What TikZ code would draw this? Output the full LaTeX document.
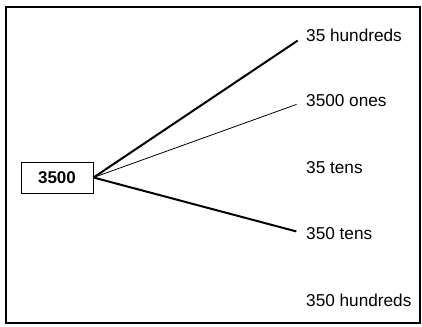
\documentclass[tikz,border=0pt]{standalone}
\usepackage{fontspec}
\setmainfont{Liberation Sans}
\usetikzlibrary{positioning}

\tikzset{
  numbox/.style={draw,line width=1pt,minimum width=72pt,minimum height=31pt,inner sep=0pt,font=\fontsize{17}{20}\selectfont\bfseries},
  choice/.style={anchor=west,inner sep=0pt,font=\fontsize{17.2}{20}\selectfont},
  branch/.style={line width=2pt,shorten >=10pt},
  twig/.style={line width=0.8pt,shorten >=10pt}
}

\begin{document}
\begin{tikzpicture}[x=1pt,y=-1pt]

\useasboundingbox (0,0) rectangle (422,326);
\draw[line width=2pt] (6,7) rectangle (420,323);

\node[numbox] (num) at (57,177.5) {3500};

\node[choice] (hund) at (306,35) {35 hundreds};
\node[choice] (ones) at (306,101) {3500 ones};
\node[choice] (tens) at (306,167.5) {35 tens};
\node[choice] (ten3) at (306,234) {350 tens};
\node[choice] (hun3) at (306,300.5) {350 hundreds};

% lines out of the box
\draw[branch] (num.east) -- (hund.west);
\draw[twig] (num.east) -- (ones.west);
\draw[branch] (num.east) -- (ten3.west);

\end{tikzpicture}
\end{document}
